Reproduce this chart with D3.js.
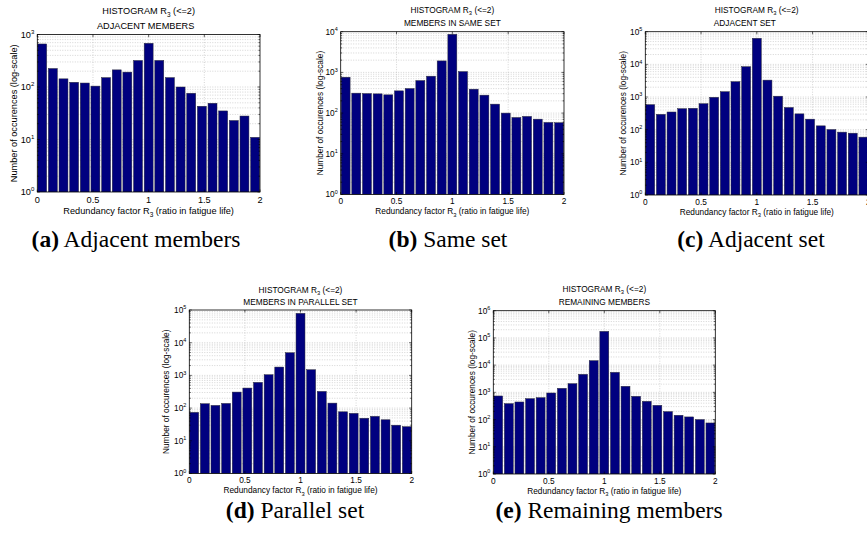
<!DOCTYPE html>
<html>
<head>
<meta charset="utf-8">
<script src="https://cdn.jsdelivr.net/npm/d3@7"></script>
<style>
  body { margin: 0; background: #fff; }
  svg { display: block; }
  text { font-family: "Liberation Sans", Arial, Helvetica, sans-serif; fill: #000; }
  .cap { font-family: "Liberation Serif", "Times New Roman", serif; }
</style>
</head>
<body>
<svg id="fig" width="867" height="536"></svg>
<script>
// Histogram bins of the redundancy factor R3 (bin centres)
const binLabels = ["0.0","0.1","0.2","0.3","0.4","0.5","0.6","0.7","0.8","0.9","1.0",
                   "1.1","1.2","1.3","1.4","1.5","1.6","1.7","1.8","1.9","2.0"];

// Number of occurrences per bin for each member group
const adjacentMembers  = [660, 225, 143, 123, 119, 104, 151, 212, 192, 320, 680,
                          321, 151, 100, 76, 43, 49, 35, 23, 28, 11];
const sameSet          = [762, 309, 302, 297, 281, 352, 401, 630, 807, 1915, 8630,
                          1047, 387, 276, 166, 100, 78, 83, 71, 59, 58];
const adjacentSet      = [583, 295, 348, 440, 452, 625, 981, 1456, 2950, 8490, 62800,
                          3290, 1060, 478, 305, 210, 131, 101, 84, 78, 59];
const parallelSet      = [74, 136, 121, 139, 309, 410, 611, 1048, 1800, 4930, 79000,
                          1490, 324, 142, 77, 69, 49, 56, 44, 30, 27];
const remainingMembers = [736, 385, 443, 587, 639, 948, 1407, 2087, 4590, 14600, 174000,
                          5440, 1670, 715, 469, 334, 196, 144, 125, 100, 75];

// Axis ticks
const xTicks = [0, 0.5, 1, 1.5, 2];
const xTickLabels = ["0", "0.5", "1", "1.5", "2"];

// Texts
const titleMain = "HISTOGRAM R";
const titleRest = " (<=2)";
const xLabelMain = "Redundancy factor R";
const xLabelRest = " (ratio in fatigue life)";
const yLabel = "Number of occurences (log-scale)";

const subTitles = ["ADJACENT MEMBERS", "MEMBERS IN SAME SET", "ADJACENT SET",
                   "MEMBERS IN PARALLEL SET", "REMAINING MEMBERS"];
const capTags = ["(a)", "(b)", "(c)", "(d)", "(e)"];
const capTexts = ["Adjacent members", "Same set", "Adjacent set", "Parallel set", "Remaining members"];
const seriesList = [adjacentMembers, sameSet, adjacentSet, parallelSet, remainingMembers];

// Panel placement on the page
const panels = [
  { x0: 37.3,  x1: 260,   y0: 34.5,  y1: 192,   maxExp: 3, fs: 9.2, t1: 14,    t2: 28.5,  t2dx: -3,  capX: 136, capY: 246.5, ylOff: 24 },
  { x0: 340.7, x1: 564,   y0: 31.7,  y1: 194.5, maxExp: 4, fs: 8.3, t1: 12.5,  t2: 26,    t2dx: 0,   capX: 448, capY: 246.5, ylOff: 21 },
  { x0: 645.3, x1: 868.3, y0: 31.7,  y1: 195,   maxExp: 5, fs: 8.3, t1: 12.5,  t2: 26,    t2dx: -12, capX: 751, capY: 246.5, ylOff: 22 },
  { x0: 189.3, x1: 411.7, y0: 310,   y1: 473.5, maxExp: 5, fs: 8.3, t1: 292.5, t2: 304.5, t2dx: 0,   capX: 295, capY: 518,   ylOff: 23 },
  { x0: 493.3, x1: 715.3, y0: 310.7, y1: 474,   maxExp: 6, fs: 8.3, t1: 292,   t2: 304.5, t2dx: 0,   capX: 609, capY: 518,   ylOff: 21 }
];

const svg = d3.select("#fig");
const barFill = "#00007f";
const gridColor = "#b9b9b9";

panels.forEach((p, i) => {
  const data = seriesList[i];
  const g = svg.append("g");
  const fs = p.fs;

  const x = d3.scaleLinear().domain([0, 2]).range([p.x0, p.x1]);
  const xb = d3.scaleBand().domain(binLabels).range([p.x0, p.x1])
    .paddingInner(0.16).paddingOuter(0.04);
  const y = d3.scaleLog().domain([1, Math.pow(10, p.maxExp)]).range([p.y1, p.y0]);

  const allY = y.ticks();                               // 1..9 x each decade
  const decades = allY.filter(v => Math.abs(Math.log10(v) - Math.round(Math.log10(v))) < 1e-9);

  // plot background
  g.append("rect").attr("x", p.x0).attr("y", p.y0)
    .attr("width", p.x1 - p.x0).attr("height", p.y1 - p.y0).attr("fill", "#fff");

  // dotted grid: vertical at major x ticks, horizontal at every log tick
  g.append("g").selectAll("line").data(xTicks.slice(1, -1)).join("line")
    .attr("x1", d => x(d)).attr("x2", d => x(d))
    .attr("y1", p.y0).attr("y2", p.y1)
    .attr("stroke", gridColor).attr("stroke-width", 0.6).attr("stroke-dasharray", "1,1.5");
  g.append("g").selectAll("line").data(allY.filter(v => v > 1 && v < Math.pow(10, p.maxExp))).join("line")
    .attr("x1", p.x0).attr("x2", p.x1)
    .attr("y1", d => y(d)).attr("y2", d => y(d))
    .attr("stroke", gridColor).attr("stroke-width", 0.6).attr("stroke-dasharray", "1,1.5");

  // bars
  const clipId = "clip" + i;
  g.append("clipPath").attr("id", clipId).append("rect")
    .attr("x", p.x0).attr("y", p.y0).attr("width", p.x1 - p.x0).attr("height", p.y1 - p.y0);
  g.append("g").attr("clip-path", `url(#${clipId})`)
    .selectAll("rect").data(data).join("rect")
    .attr("x", (d, k) => xb(binLabels[k]))
    .attr("width", xb.bandwidth())
    .attr("y", d => y(d))
    .attr("height", d => y(1) - y(d))
    .attr("fill", barFill)
    .attr("stroke", "#2a2a3a").attr("stroke-width", 0.5);

  // box
  g.append("rect").attr("x", p.x0).attr("y", p.y0)
    .attr("width", p.x1 - p.x0).attr("height", p.y1 - p.y0)
    .attr("fill", "none").attr("stroke", "#000").attr("stroke-width", 0.8);

  // inward ticks on all four sides
  const tk = g.append("g").attr("stroke", "#000").attr("stroke-width", 0.6);
  xTicks.forEach(t => {
    tk.append("line").attr("x1", x(t)).attr("x2", x(t)).attr("y1", p.y1).attr("y2", p.y1 - 2.5);
    tk.append("line").attr("x1", x(t)).attr("x2", x(t)).attr("y1", p.y0).attr("y2", p.y0 + 2.5);
  });
  allY.forEach(v => {
    const len = decades.includes(v) ? 2.5 : 1.5;
    tk.append("line").attr("x1", p.x0).attr("x2", p.x0 + len).attr("y1", y(v)).attr("y2", y(v));
    tk.append("line").attr("x1", p.x1).attr("x2", p.x1 - len).attr("y1", y(v)).attr("y2", y(v));
  });

  // x tick labels
  g.append("g").selectAll("text").data(xTicks).join("text")
    .attr("x", d => x(d)).attr("y", p.y1 + fs * 1.2)
    .attr("text-anchor", "middle").attr("font-size", fs)
    .text((d, k) => xTickLabels[k]);

  // y tick labels 10^n
  decades.forEach(v => {
    const e = Math.round(Math.log10(v));
    const t = g.append("text").attr("x", p.x0 - 3).attr("y", y(v) + fs * 0.36)
      .attr("text-anchor", "end").attr("font-size", fs);
    t.append("tspan").text("10");
    t.append("tspan").attr("font-size", fs * 0.66).attr("dy", -fs * 0.45).text(e);
  });

  // x axis label with subscript
  const xl = g.append("text").attr("x", (p.x0 + p.x1) / 2).attr("y", p.y1 + fs * 2.4)
    .attr("text-anchor", "middle").attr("font-size", fs);
  xl.append("tspan").text(xLabelMain);
  xl.append("tspan").attr("font-size", fs * 0.7).attr("dy", fs * 0.3).text("3");
  xl.append("tspan").attr("dy", -fs * 0.3).text(xLabelRest);

  // y axis label
  g.append("text")
    .attr("transform", `translate(${p.x0 - p.ylOff},${(p.y0 + p.y1) / 2}) rotate(-90)`)
    .attr("dy", "0.35em")
    .attr("text-anchor", "middle").attr("font-size", fs).text(yLabel);

  // two-line title
  const t1 = g.append("text").attr("x", (p.x0 + Math.min(p.x1, 868)) / 2).attr("y", p.t1)
    .attr("text-anchor", "middle").attr("font-size", fs);
  t1.append("tspan").text(titleMain);
  t1.append("tspan").attr("font-size", fs * 0.7).attr("dy", fs * 0.3).text("3");
  t1.append("tspan").attr("dy", -fs * 0.3).text(titleRest);
  g.append("text").attr("x", (p.x0 + p.x1) / 2 + p.t2dx).attr("y", p.t2)
    .attr("text-anchor", "middle").attr("font-size", fs).text(subTitles[i]);

  // sub-figure caption
  const cap = svg.append("text").attr("class", "cap")
    .attr("x", p.capX).attr("y", p.capY)
    .attr("text-anchor", "middle").attr("font-size", 23.5);
  cap.append("tspan").attr("font-weight", "bold").text(capTags[i]);
  cap.append("tspan").text(" " + capTexts[i]);
});
</script>
</body>
</html>
